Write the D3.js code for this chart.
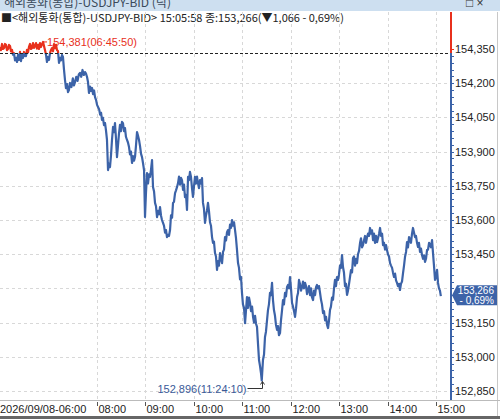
<!DOCTYPE html>
<html><head><meta charset="utf-8">
<script src="https://cdn.jsdelivr.net/npm/d3@7"></script>
<style>body{margin:0;background:#fff;overflow:hidden}svg{display:block}</style>
</head><body>
<script>
// ---- data: minutes after 06:00 and BID price ----
const minutes = [
0,1.2,2.5,3.7,5.0,6.2,7.4,8.6,9.9,11.1,
12.4,13.6,14.9,16.1,17.3,18.6,19.8,21.1,22.3,23.5,
24.8,26.0,27.2,28.5,29.7,31.0,32.2,33.4,34.7,35.9,
37.2,38.4,39.6,40.9,42.1,43.4,44.6,45.8,47.1,48.3,
49.5,50.8,52.0,53.3,54.5,55.7,57.0,58.2,59.5,60.7,
61.9,63.1,64.4,65.6,66.9,68.1,69.4,70.6,71.8,73.1,
74.3,75.5,76.8,78.0,79.2,
80.5,81.7,83.0,84.2,85.4,86.7,88.5,90.2,91.6,92.9,
94.5,96.0,97.6,99.1,100.6,102.2,103.8,105.3,106.5,107.8,
109.0,110.2,111.5,112.8,114.0,115.2,116.5,117.7,119.0,120.2,
121.4,122.8,124.0,125.2,126.3,127.5,128.8,130.1,131.3,132.5,
133.8,135.0,136.2,137.4,138.7,140.0,141.2,142.4,143.6,144.9,
146.1,147.4,148.6,149.8,151.1,152.3,153.6,154.8,156.0,157.3,
158.5,159.8,161.0,162.2,163.5,164.7,166.0,167.2,168.4,169.7,
170.9,172.2,173.4,174.7,175.9,177.1,178.4,179.6,180.8,182.1,
183.3,184.6,185.8,187.0,188.3,189.5,190.8,192.0,193.2,194.5,
195.7,197.0,198.2,199.4,200.6,201.9,203.1,204.4,205.6,206.8,
208.0,209.3,210.6,211.8,213.1,214.3,215.5,216.8,218.0,219.3,
220.5,221.7,223.0,224.2,225.4,226.7,227.9,229.1,230.4,231.6,
232.9,234.1,235.3,236.5,237.8,239.0,240.2,241.5,242.7,244.0,
245.2,246.4,247.7,249.0,250.2,251.4,252.6,253.9,255.1,256.3,
257.6,258.8,260.1,261.3,262.6,263.8,265.0,266.3,267.5,268.8,
270.0,271.2,272.5,273.7,275.0,276.2,277.4,278.7,279.9,281.1,
282.4,283.6,284.9,286.1,287.4,288.6,289.9,291.1,292.3,293.5,
294.8,296.0,297.3,298.5,299.7,300.9,302.2,303.5,304.7,305.9,
307.1,308.4,309.7,310.9,312.2,313.4,314.6,315.9,317.1,318.3,
319.5,320.8,322.0,323.2,324.2,325.7,327.0,328.2,329.4,330.7,
331.9,333.1,334.4,335.6,336.9,338.1,339.3,340.6,341.8,343.1,
344.3,345.5,346.8,348.0,349.2,350.5,351.7,353.0,354.2,355.5,
356.7,358.0,359.2,360.4,361.7,362.9,364.2,365.4,366.6,367.9,
369.1,370.3,371.5,372.8,374.1,375.3,376.5,377.8,379.0,380.3,
381.5,382.7,384.0,385.2,386.4,387.7,388.9,390.2,391.4,392.6,
393.8,395.1,396.4,397.6,398.8,400.1,401.3,402.6,403.8,405.1,
406.3,407.5,408.7,409.9,411.2,412.4,413.7,414.9,416.1,417.4,
418.6,419.8,421.1,422.3,423.6,424.8,426.0,427.3,428.5,429.8,
431.0,432.3,433.5,434.7,436.0,437.2,438.4,439.7,440.9,442.2,
443.4,444.7,445.9,447.1,448.4,449.6,450.8,452.1,453.3,454.6,
455.8,457.1,458.3,459.5,460.8,462.0,463.2,464.5,465.7,467.0,
468.2,469.5,470.7,471.9,473.2,474.4,475.6,476.9,478.1,479.3,
480.5,481.8,483.1,484.3,485.6,486.8,488.0,489.3,490.5,491.7,
492.9,494.2,495.4,496.6,497.9,499.2,500.4,501.7,502.9,504.1,
505.3,506.6,507.8,509.0,510.3,511.5,512.7,514.0,515.2,516.5,
517.7,518.9,520.2,521.4,522.7,523.9,525.2,526.4,527.6,528.9,
530.1,531.4,532.6,533.8,535.1,536.3,537.5,538.8,540.0,541.3,
542.5,543.7,544.9,546.0];
const values = [
154.359,154.345,154.372,154.350,154.354,154.372,154.368,154.345,154.350,154.368,
154.363,154.340,154.346,154.325,154.332,154.300,154.311,154.293,154.324,154.302,
154.337,154.297,154.324,154.311,154.337,154.320,154.319,154.346,154.335,154.359,
154.372,154.350,154.354,154.376,154.355,154.363,154.376,154.352,154.368,154.350,
154.376,154.359,154.370,154.381,154.363,154.346,154.324,154.293,154.315,154.302,
154.332,154.345,154.354,154.340,154.372,154.354,154.368,154.345,154.341,154.289,
154.311,154.300,154.324,154.315,154.262,
154.214,154.178,154.196,154.161,154.170,154.201,154.183,154.221,154.190,154.205,
154.228,154.210,154.238,154.245,154.228,154.258,154.236,154.249,154.242,154.227,
154.205,154.157,154.185,154.166,154.179,154.152,154.168,154.139,154.126,154.105,
154.096,154.085,154.062,154.070,154.039,154.048,154.016,154.025,153.992,153.951,
153.819,153.846,153.832,153.880,153.951,154.008,153.985,154.025,153.960,153.876,
153.925,153.980,154.017,153.990,154.030,154.025,153.990,154.003,153.965,153.951,
153.940,153.920,153.888,153.900,153.850,153.880,153.860,153.876,153.925,153.986,
153.970,153.951,153.925,153.890,153.876,153.850,153.819,153.613,153.720,153.806,
153.760,153.800,153.789,153.820,153.863,153.745,153.725,153.675,153.660,153.613,
153.640,153.625,153.657,153.620,153.600,153.587,153.575,153.545,153.556,153.525,
153.535,153.530,153.556,153.620,153.610,153.675,153.680,153.718,153.730,153.745,
153.762,153.790,153.755,153.785,153.775,153.732,153.755,153.700,153.710,153.644,
153.789,153.775,153.811,153.790,153.740,153.701,153.745,153.789,153.760,153.790,
153.762,153.740,153.775,153.760,153.784,153.675,153.650,153.587,153.620,153.640,
153.675,153.640,153.590,153.575,153.525,153.500,153.505,153.455,153.440,153.381,
153.420,153.400,153.455,153.430,153.411,153.460,153.470,153.525,153.510,153.545,
153.556,153.535,153.580,153.565,153.600,153.575,153.590,153.556,153.520,153.470,
153.411,153.390,153.340,153.350,153.280,153.230,153.215,153.148,153.205,153.262,
153.215,153.260,153.236,153.200,153.220,153.175,153.150,153.180,153.145,153.131,
153.060,152.986,152.960,152.930,152.896,152.986,153.010,153.087,153.110,153.160,
153.205,153.230,153.280,153.270,153.324,153.249,153.205,153.180,153.140,153.118,
153.135,153.095,153.104,153.160,153.200,153.249,153.230,153.280,153.265,153.306,
153.315,153.300,153.350,153.300,153.236,153.220,153.200,153.175,153.210,153.262,
153.280,153.337,153.320,153.290,153.306,153.330,153.300,153.324,153.310,153.275,
153.293,153.310,153.270,153.300,153.262,153.249,153.290,153.270,153.305,153.315,
153.300,153.310,153.280,153.250,153.230,153.192,153.200,153.160,153.175,153.140,
153.126,153.160,153.205,153.220,153.260,153.250,153.300,153.337,153.310,153.350,
153.337,153.360,153.400,153.390,153.446,153.394,153.370,153.310,153.320,153.271,
153.290,153.320,153.350,153.380,153.370,153.433,153.440,153.400,153.430,153.411,
153.450,153.465,153.499,153.520,153.480,153.490,153.510,153.530,153.500,153.525,
153.540,153.530,153.565,153.540,153.555,153.512,153.540,153.500,153.530,153.503,
153.520,153.540,153.565,153.530,153.540,153.490,153.500,153.470,153.490,153.468,
153.450,153.440,153.411,153.400,153.390,153.368,153.350,153.365,153.335,153.324,
153.310,153.320,153.293,153.320,153.330,153.368,153.400,153.440,153.460,153.503,
153.480,153.525,153.512,153.500,153.540,153.565,153.545,153.525,153.530,153.500,
153.482,153.500,153.460,153.475,153.446,153.430,153.445,153.416,153.430,153.468,
153.470,153.500,153.490,153.480,153.512,153.455,153.400,153.337,153.350,153.381,
153.324,153.300,153.290,153.266];
const prevClose = 154.332;
const yTickValues = [154.35,154.2,154.05,153.9,153.75,153.6,153.45,153.3,153.15,153.0,152.85];
const xTickHours = [8,9,10,11,12,13,14,15];
const firstLabel = "2026/09/08-06:00";
const titleText = "해외통화(통합)-USDJPY-BID (틱)";
const infoText = "■<해외통화(통합)-USDJPY-BID> 15:05:58 종:153,266(▼1,066  - 0,69%)";
const maxLabel = "154,381(06:45:50)";
const minLabel = "152,896(11:24:10)";
const lastLabel = ["153,266", "- 0,69%"];

const W = 500, H = 419;
const RED = "#e8301c", BLUE = "#3c63a8";
const base = new Date(2026, 8, 8, 6, 0, 0);
const n = Math.min(minutes.length, values.length);
const data = d3.range(n).map(i => ({t: new Date(+base + minutes[i] * 60000), v: values[i]}));

const x = d3.scaleTime().domain([base, new Date(2026, 8, 8, 15, 0, 0)]).range([0, 436]);
const y = d3.scaleLinear().domain([154.35, 152.85]).range([49, 391]);
const plotL = 0, plotR = 451, plotT = 12, plotB = 400;
const numFmt = v => d3.format(".3f")(v).replace(".", ",");

const svg = d3.select("body").append("svg").attr("width", W).attr("height", H)
  .style("font-family", "'Liberation Sans', Arial, sans-serif");
const defs = svg.append("defs");

// title bar (text partly cut at the top)
defs.append("clipPath").attr("id", "cTitle").append("rect").attr("x", 0).attr("y", 0).attr("width", W).attr("height", 11);
svg.append("rect").attr("x", 0).attr("y", 0).attr("width", W).attr("height", 11).attr("fill", "#cddff0");
const tg = svg.append("g").attr("clip-path", "url(#cTitle)");
tg.append("text").attr("x", 4).attr("y", 7).attr("font-size", 12).attr("fill", "#3a4a5a")
  .style("font-family", "'Noto Sans CJK KR', sans-serif").text(titleText);
tg.append("text").attr("x", 466).attr("y", 7).attr("font-size", 12).attr("fill", "#333").text("□ ×");

// info line
svg.append("text").attr("x", 1).attr("y", 22).attr("font-size", 11).attr("fill", "#222")
  .style("font-family", "'Noto Sans CJK KR', sans-serif").text(infoText);
svg.append("rect").attr("x", 481.5).attr("y", 14.5).attr("width", 7).attr("height", 7).attr("fill", "none").attr("stroke", "#555");
svg.append("rect").attr("x", 482.5).attr("y", 15.5).attr("width", 5).attr("height", 2).attr("fill", "#555");
svg.append("text").attr("x", 489).attr("y", 22).attr("font-size", 10).attr("fill", "#888").text("×");

// grid
const g = svg.append("g");
g.selectAll("line.hg").data(yTickValues.filter(v => v < 154.35)).join("line")
  .attr("x1", plotL).attr("x2", plotR).attr("y1", d => Math.round(y(d)) + 0.5).attr("y2", d => Math.round(y(d)) + 0.5)
  .attr("stroke", "#d8d8d8").attr("stroke-dasharray", "3,3");
const hourDates = xTickHours.map(h => new Date(2026, 8, 8, h, 0, 0));
g.selectAll("line.vg").data(hourDates).join("line")
  .attr("x1", d => Math.round(x(d)) + 0.5).attr("x2", d => Math.round(x(d)) + 0.5).attr("y1", plotT).attr("y2", plotB)
  .attr("stroke", "#d8d8d8").attr("stroke-dasharray", "3,3");

// clip paths for above / below previous close
const yPrev = y(prevClose);
defs.append("clipPath").attr("id", "cAbove").append("rect").attr("x", plotL).attr("y", plotT).attr("width", plotR - plotL).attr("height", yPrev - plotT);
defs.append("clipPath").attr("id", "cBelow").append("rect").attr("x", plotL).attr("y", yPrev).attr("width", plotR - plotL).attr("height", plotB - yPrev);

const line = d3.line().x(d => x(d.t)).y(d => y(d.v));
svg.append("path").datum(data).attr("d", line).attr("fill", "none").attr("stroke", BLUE).attr("stroke-width", 2.2).attr("stroke-linejoin", "round").attr("clip-path", "url(#cBelow)");
svg.append("path").datum(data).attr("d", line).attr("fill", "none").attr("stroke", RED).attr("stroke-width", 2.2).attr("stroke-linejoin", "round").attr("clip-path", "url(#cAbove)");

// prev close dashed line
svg.append("line").attr("x1", plotL).attr("x2", plotR).attr("y1", Math.round(yPrev) + 0.5).attr("y2", Math.round(yPrev) + 0.5)
  .attr("stroke", "#222").attr("stroke-dasharray", "3,2");

// max annotation
const maxD = data.reduce((a, b) => b.v > a.v ? b : a);
svg.append("line").attr("x1", x(maxD.t)).attr("x2", x(maxD.t) + 4).attr("y1", y(maxD.v)).attr("y2", y(maxD.v)).attr("stroke", RED);
svg.append("text").attr("x", x(maxD.t) + 4).attr("y", y(maxD.v) + 4).attr("font-size", 11).attr("fill", RED).text(maxLabel);

// min annotation
const minD = data.reduce((a, b) => b.v < a.v ? b : a);
const mx = Math.round(x(minD.t)) + 0.5, my = y(minD.v) + 8;
svg.append("path").attr("d", `M${mx - 15},${my}H${mx}V${y(minD.v) + 1}`).attr("fill", "none").attr("stroke", "#333");
svg.append("path").attr("d", `M${mx - 2},${y(minD.v) + 4}L${mx},${y(minD.v) + 1}L${mx + 2},${y(minD.v) + 4}`).attr("fill", "none").attr("stroke", "#333");
svg.append("text").attr("x", mx - 16).attr("y", my + 4).attr("text-anchor", "end").attr("font-size", 11).attr("fill", "#3a5a98").text(minLabel);

// right axis
const last = data[data.length - 1];
const ly = y(last.v);
svg.append("rect").attr("x", plotR + 1).attr("y", plotT).attr("width", W - plotR - 1).attr("height", plotB - plotT).attr("fill", "#fff");
svg.append("line").attr("x1", plotR).attr("x2", plotR).attr("y1", plotT).attr("y2", yPrev).attr("stroke", RED).attr("stroke-width", 2);
svg.append("line").attr("x1", plotR).attr("x2", plotR).attr("y1", yPrev).attr("y2", plotB).attr("stroke", BLUE).attr("stroke-width", 2);
const minorTicks = d3.range(0, 51).map(i => 152.85 + i * 0.03).filter(v => v <= 154.46);
svg.selectAll("line.mt").data(minorTicks).join("line")
  .attr("x1", plotR).attr("x2", plotR + 3).attr("y1", d => Math.round(y(d)) + 0.5).attr("y2", d => Math.round(y(d)) + 0.5)
  .attr("stroke", d => d > prevClose ? RED : BLUE);
svg.selectAll("text.yl").data(yTickValues.filter(v => Math.abs(y(v) - ly) > 12)).join("text")
  .attr("x", plotR + 4).attr("y", d => y(d) + 4).attr("font-size", 11).attr("fill", "#222").text(numFmt);
svg.append("line").attr("x1", 497.5).attr("x2", 497.5).attr("y1", 12).attr("y2", 416).attr("stroke", "#c8c8c8");

// last value box
svg.append("path").attr("d", `M${plotR + 1},${ly - 1}L${plotR + 6},${ly - 11}H497V${ly + 9}H${plotR + 6}Z`).attr("fill", BLUE);
svg.append("text").attr("x", 494).attr("y", ly - 2.5).attr("text-anchor", "end").attr("font-size", 10).attr("fill", "#fff").text(lastLabel[0]);
svg.append("text").attr("x", 494).attr("y", ly + 7.5).attr("text-anchor", "end").attr("font-size", 10).attr("fill", "#fff").text(lastLabel[1]);

// x axis
svg.append("line").attr("x1", 0).attr("x2", W).attr("y1", 400.5).attr("y2", 400.5).attr("stroke", "#bbb");
svg.append("text").attr("x", 0).attr("y", 413).attr("font-size", 11).attr("fill", "#222").text(firstLabel);
const xa = svg.selectAll("g.xt").data(hourDates).join("g").attr("transform", d => `translate(${Math.round(x(d)) + 0.5},0)`);
xa.append("line").attr("y1", 402).attr("y2", 406).attr("stroke", "#555");
xa.append("text").attr("x", 1).attr("y", 413).attr("font-size", 11).attr("fill", "#222").text(d => d3.timeFormat("%H:%M")(d));
svg.append("rect").attr("x", 0).attr("y", 416).attr("width", W).attr("height", 3).attr("fill", "#666");
</script>
</body></html>
